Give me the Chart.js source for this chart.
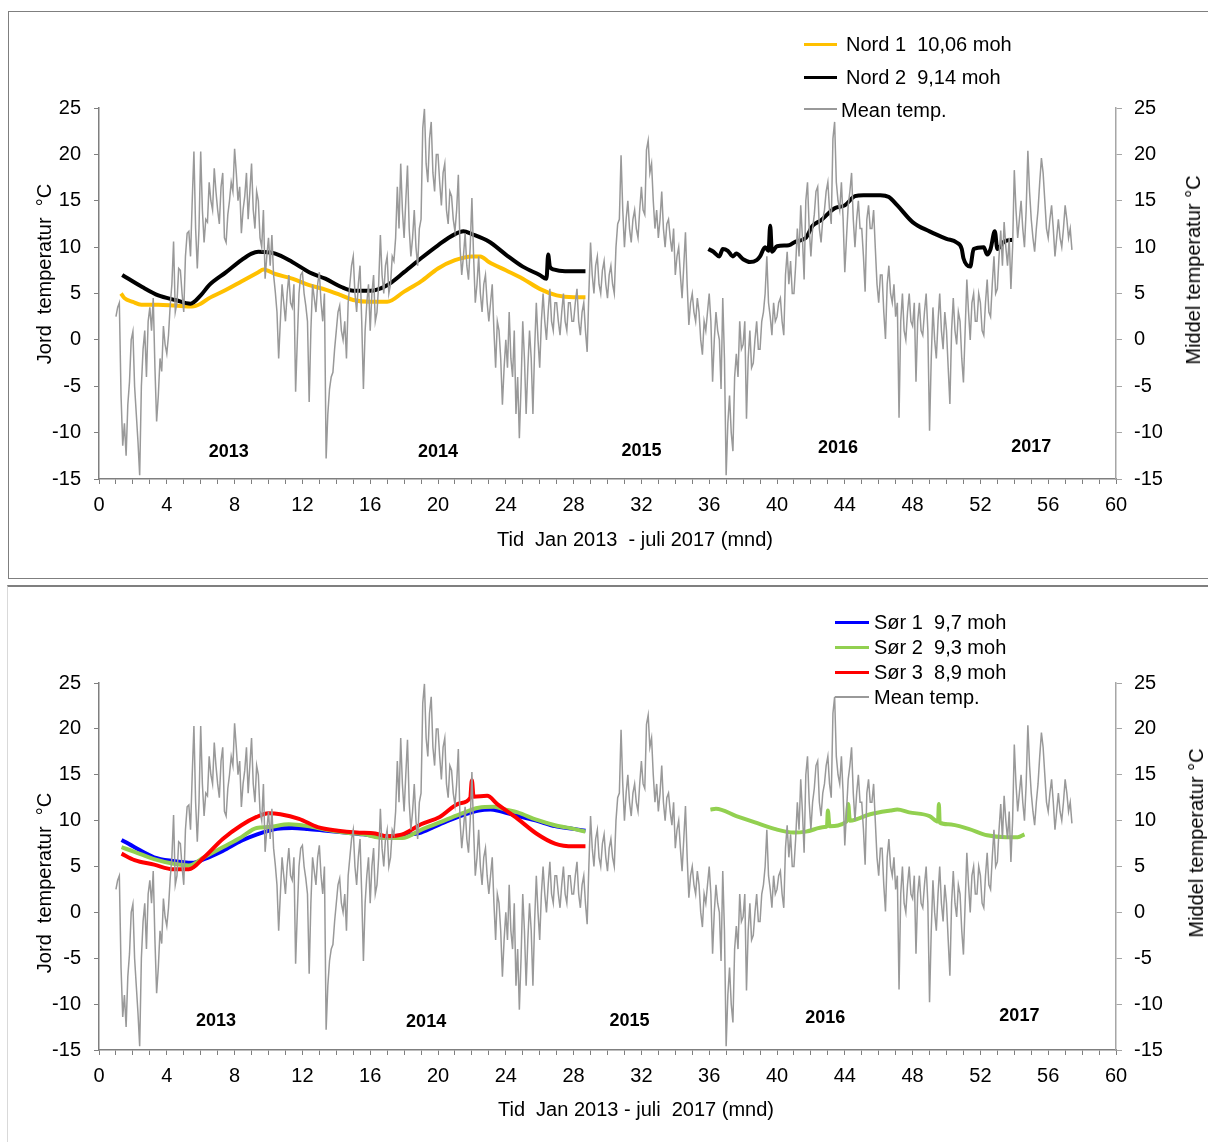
<!DOCTYPE html>
<html>
<head>
<meta charset="utf-8">
<title>Jord temperatur</title>
<script src="https://cdn.jsdelivr.net/npm/chart.js@4.4.1/dist/chart.umd.min.js"></script>
<style>
    html, body { margin: 0; padding: 0; background: #fff; }
    body { width: 1208px; height: 1142px; position: relative; overflow: hidden;
           font-family: "Liberation Sans", Arial, sans-serif; color: #000; }
    #frameTop { position: absolute; box-sizing: border-box; left: 8px; top: 11px; width: 1230px; height: 568px;
                border: 1.5px solid #7f7f7f; }
    #frameBottom { position: absolute; box-sizing: border-box; left: 7px; top: 585px; width: 1230px; height: 600px;
                   border-top: 2px solid #7f7f7f; border-left: 1px solid #d9d9d9; }
    canvas { position: absolute; left: 0; }
    #topChart { top: 0; }
    #bottomChart { top: 586px; }
    .txt { position: absolute; white-space: pre; font-size: 20px; line-height: 1; }
    .vtitle { transform: translate(-50%, -50%) rotate(-90deg); }
    .htitle { transform: translate(-50%, -50%); }
    .legText { transform: translateY(-50%); }
    .legLine { position: absolute; }
</style>
</head>
<body>
<div id="frameTop"></div>
<div id="frameBottom"></div>
<canvas id="topChart" width="1208" height="580"></canvas>
<canvas id="bottomChart" width="1208" height="556"></canvas>

<!-- top panel texts -->
<div class="txt vtitle" style="left:44px; top:274px;">Jord  temperatur  °C</div>
<div class="txt vtitle" style="left:1193px; top:270px;">Middel temperatur °C</div>
<div class="txt htitle" style="left:635px; top:539px;">Tid  Jan 2013  - juli 2017 (mnd)</div>
<div class="legLine" style="left:804px; top:42.5px; width:33px; height:3px; background:#FFC000;"></div>
<div class="txt legText" style="left:846px; top:44px;">Nord 1  10,06 moh</div>
<div class="legLine" style="left:804px; top:75.5px; width:33px; height:3.5px; background:#000;"></div>
<div class="txt legText" style="left:846px; top:77px;">Nord 2  9,14 moh</div>
<div class="legLine" style="left:804px; top:108px; width:33px; height:1.5px; background:#999;"></div>
<div class="txt legText" style="left:841px; top:110px;">Mean temp.</div>

<!-- bottom panel texts -->
<div class="txt vtitle" style="left:44px; top:883px;">Jord  temperatur  °C</div>
<div class="txt vtitle" style="left:1196px; top:843px;">Middel temperatur °C</div>
<div class="txt htitle" style="left:636px; top:1109px;">Tid  Jan 2013 - juli  2017 (mnd)</div>
<div class="legLine" style="left:835px; top:620.5px; width:34px; height:3px; background:#0000FF;"></div>
<div class="txt legText" style="left:874px; top:622px;">Sør 1  9,7 moh</div>
<div class="legLine" style="left:835px; top:645.5px; width:34px; height:3px; background:#92D050;"></div>
<div class="txt legText" style="left:874px; top:647px;">Sør 2  9,3 moh</div>
<div class="legLine" style="left:835px; top:670.5px; width:34px; height:3px; background:#FF0000;"></div>
<div class="txt legText" style="left:874px; top:672px;">Sør 3  8,9 moh</div>
<div class="legLine" style="left:835px; top:696px; width:34px; height:1.5px; background:#999;"></div>
<div class="txt legText" style="left:874px; top:697px;">Mean temp.</div>

<script>
// month axis (Jan 2013 = 0) and temperature axes
const monthMin = 0;
const monthMax = 60;
const tempMin = -15;
const tempMax = 25;
const tempStep = 5;

// mean air temperature, read every 0.1 month from month 1.0 (one row = one month)
const meanStartMonth = 1.0;
const meanStepMonth = 0.1;
const meanTemp = [
    2.5, 3.5, 4.0, -6, -11.4, -9, -12.5, -7, -4.5, 0,
    0.9, -5, -8, -11, -14.6, -5, -1, 1, -4, 2,
    3.5, 1, 4.5, -3, -8.8, -6, -2, -3.4, 1.5, -0.5,
    -1.5, 0.5, 3.7, 6, 10.6, 3, 4, 7.7, 7.5, 5,
    3, 9, 11.5, 11.7, 9, 15, 20.3, 12, 7.7, 12,
    20.3, 14, 10.5, 13, 12.7, 17, 15, 14, 18.5, 16,
    14, 12.5, 16.5, 18, 11, 10.5, 13.5, 15, 17, 16,
    20.6, 18, 15, 16.5, 11.5, 14, 15.5, 18, 13, 16,
    19, 14, 12, 16, 15, 11, 10, 14, 6.6, 9,
    11, 8, 11.3, 7, 5.2, 3, -2, 2, 6, 4,
    2, 5, 7, 4, 3.5, 6, -5.6, 0, 5, 7,
    7.3, 5, 3.7, 2, -6.7, 1, 6, 4.5, 3, 6,
    7.3, 4, 2, 5, -12.8, -8, -5.3, -4, -3.5, -1,
    1, 3, 3.7, 1, 0, 2, -2, 4, 6, 8,
    9, 5, 3, 6, 8, 2, -5.3, 1, 4, 6,
    1, 5, 7, 2, 3, 6, 11.3, 7, 5, 8,
    9, 5, 6, 9, 8.5, 11, 16.5, 12, 19, 14,
    11, 15, 18.8, 12, 9, 11, 14, 10, 8, 12,
    13, 22.8, 24.9, 19, 17, 21.7, 23.5, 18, 16, 20,
    20, 17, 14.5, 18, 19, 14, 12.5, 16, 15.5, 13,
    11.7, 14, 17.8, 10, 7, 9, 11.5, 8, 6.5, 10,
    15.3, 9, 4, 6, 9, 5, 3, 6, 7, 4,
    2, 4, 6, 1, -3, 2, 1, -2, -7, -3,
    0, -3, 3, -2, -4, 1, -8, -4, -10.6, -5,
    2, -2, -8, -3, 1, -2, -8, -1, 4, 0,
    -3, 2, 5, 2, 0, 3, 5.5, 2, 1, 4,
    4, 2, 0.5, 3, 5, 2, 1, 4, 4, 2,
    2, 4, 5.5, 2, 0.5, 3, 4, 1, -1.3, 5,
    10.5, 7, 5, 8, 9, 6, 5, 7.5, 8.5, 6,
    4.5, 7, 8, 6, 5, 10, 12.5, 13, 19.9, 14,
    10, 13, 15, 12, 10.5, 13, 14, 12, 11, 14,
    16.5, 14, 13.5, 20.5, 21.5, 18, 19, 15, 12, 14,
    11, 13, 16, 12, 10, 12.5, 13, 11, 9.5, 12,
    7, 9, 10, 7, 4.5, 8, 11.6, 6, 1.6, 4,
    5, 3, 2, 4.5, 3, 0, -1.6, 2, 1, 3,
    5, 2, -4.5, 0, 3, 1, 0, -5.3, 4.5, -2,
    -14.6, -9, -6, -10, -12, -4, -1.5, -4, 2, -1,
    -0.5, 2, -8.5, -2, 1, -3, -2.5, 0, 2, -1,
    -1, 2, 3, 5, 9, 4, 2.5, 0.5, 4, 2,
    2.5, 4, 4.5, 2, 0.5, 7, 9.5, 6, 8.5, 5,
    5, 8, 12, 9, 14.5, 11, 6.5, 15, 17, 12,
    9, 12, 13.5, 16, 16.5, 12, 10.5, 13, 14, 16,
    17, 14, 12.5, 21.7, 23.5, 17, 15, 14, 17, 13,
    7.3, 11, 14.5, 16, 18, 13, 10, 13, 15, 12,
    12, 9, 5.2, 13, 14.5, 12, 12, 14, 9.9, 6,
    4, 7, 7, 3, 0.1, 6, 8, 5, 4, 6,
    2.5, 4, -8.4, 2, 5, 1, 0, 3, 5, 2,
    1.5, 4, -4.5, 2, 4, 1, 0.5, 3, 5, 1,
    -9.8, -2, 3.5, 0, -2, 2, 5, 1, -1, 3,
    1, -3, -6.9, 1, 4.5, 1, -0.5, 3, 2, -2,
    -4.6, 1, 6.5, 3, 0, 4, 5, 2, 2, 5,
    4, 1, 0.5, 4, 6.5, 3, 2.5, 6, 9, 5,
    5.5, 9, 11.8, 8, 12.7, 10, 8, 11, 5.5, 10,
    18.3, 14, 11, 13, 15, 12, 10, 14, 20.4, 16,
    13, 11, 9.5, 12, 14, 17, 19.6, 18, 15, 12,
    11, 13, 14.5, 12, 9, 11, 13, 11, 10, 12,
    14.5, 13, 11, 12, 9.7
];

// Nord 1  10,06 moh
const nord1Months = [1.3, 1.5, 2, 2.5, 3.5, 4.5, 5.5, 6, 6.5, 7.5, 8.4, 9.4, 9.7, 10.4, 11.4, 12.4, 13.4, 14.3,
    15, 16, 17, 18, 19, 20, 21, 22, 22.5, 23, 24, 25, 26, 27, 28, 28.7];
const nord1Temps = [5.0, 4.5, 4.1, 3.8, 3.8, 3.7, 3.6, 3.9, 4.5, 5.4, 6.3, 7.3, 7.6, 7.1, 6.6, 5.9, 5.4, 4.8,
    4.3, 4.1, 4.1, 5.2, 6.3, 7.7, 8.6, 9.0, 9.0, 8.4, 7.5, 6.6, 5.5, 4.8, 4.6, 4.6];

// Nord 2  9,14 moh (logger gap between the two periods)
const nord2Months = [1.37, 2.55, 3.5, 4.5, 5.4, 6.0, 6.5, 7.5, 8.4, 9.0, 9.4, 10.4, 11.4, 12.4, 13.35, 14.3,
    15, 16, 17, 18, 19, 20, 21, 21.5, 22, 23, 24, 25, 26, 26.4, 26.5, 26.6, 26.8, 27.5, 28, 28.7,
    32,
    35.95, 36.25, 36.6, 36.8, 37.1, 37.4, 37.6, 38, 38.4, 38.8, 39, 39.3, 39.5, 39.6, 39.7, 40, 40.7, 41.1,
    41.7, 42.1, 42.6, 43.4, 44, 44.6, 45.1, 46.1, 46.6, 47.1, 48, 49, 50, 50.6, 50.9, 51, 51.4, 51.6,
    52.2, 52.4, 52.6, 52.85, 53, 53.4, 53.9];
const nord2Temps = [7.0, 5.7, 4.8, 4.3, 3.9, 4.8, 5.9, 7.3, 8.6, 9.3, 9.5, 9.3, 8.4, 7.3, 6.6, 5.7,
    5.3, 5.3, 5.9, 7.3, 8.8, 10.2, 11.4, 11.7, 11.4, 10.6, 9.2, 7.9, 7.0, 6.6, 9.2, 7.9, 7.6, 7.4, 7.4, 7.4,
    null,
    9.8, 9.5, 9.0, 9.8, 9.6, 9.0, 9.3, 8.7, 8.4, 8.6, 9.0, 10.0, 9.6, 12.3, 9.5, 10.1, 10.2, 10.6,
    11.0, 12.3, 12.9, 14.2, 14.5, 15.5, 15.6, 15.6, 15.4, 14.5, 12.7, 11.7, 10.9, 10.5, 9.8, 8.8, 7.9, 9.8,
    10.0, 9.2, 9.8, 11.7, 9.8, 10.6, 10.8];

// Sør 1  9,7 moh
const sor1Months = [1.33, 2.1, 3.25, 4.37, 5.5, 6.2, 7.3, 8.4, 9.33, 10.5, 11.4, 12.3, 13.4, 14.5, 15.6, 16.8,
    17.9, 19, 20.1, 21.3, 22.4, 23.1, 23.5, 24.7, 25.8, 26.9, 28, 28.7];
const sor1Temps = [7.9, 7.1, 6.0, 5.6, 5.4, 5.8, 6.7, 7.8, 8.5, 9.1, 9.2, 9.1, 8.9, 8.7, 8.5, 8.2,
    8.4, 8.7, 9.6, 10.5, 11.1, 11.2, 11.1, 10.5, 10.0, 9.4, 9.1, 8.9];

// Sør 2  9,3 moh (logger gap between the two periods)
const sor2Months = [1.33, 2.1, 3.25, 4.4, 5.3, 6.2, 7.3, 8.4, 9.3, 10, 11.2, 12.3, 13.4, 14.5, 15.6, 16.8,
    17.9, 19, 20.1, 21.3, 22.4, 23.3, 24, 24.7, 25.8, 26.9, 28, 28.7,
    32,
    36.07, 36.4, 37.6, 38.7, 39.85, 41, 41.7, 42.8, 42.95, 43.0, 43.1, 44.1, 44.2, 44.3, 45.5, 46.7,
    47.1, 47.8, 49, 49.5, 49.55, 49.6, 50.1, 51.3, 52.4, 53.5, 54.2, 54.6];
const sor2Temps = [7.1, 6.6, 5.8, 5.3, 5.1, 6.0, 7.1, 8.2, 9.2, 9.3, 9.6, 9.4, 9.0, 8.7, 8.5, 8.1,
    8.1, 9.0, 9.8, 10.7, 11.4, 11.5, 11.2, 10.9, 10.1, 9.5, 9.1, 8.8,
    null,
    11.2, 11.3, 10.5, 9.8, 9.1, 8.7, 8.8, 9.3, 9.4, 11.1, 9.4, 9.9, 11.8, 10.0, 10.7, 11.1,
    11.2, 10.9, 10.5, 9.9, 11.8, 9.8, 9.6, 9.1, 8.4, 8.2, 8.2, 8.5];

// Sør 3  8,9 moh
const sor3Months = [1.33, 2.1, 3.25, 4.4, 5.3, 6.2, 7.3, 8.4, 9.3, 10, 10.7, 11.8, 12.9, 14.1, 15.2, 16.3,
    17, 17.9, 19, 20.1, 21.3, 21.9, 22.0, 22.1, 22.9, 23.5, 24.7, 25.8, 26.9, 28, 28.7];
const sor3Temps = [6.4, 5.7, 5.2, 4.7, 4.7, 6.0, 8.0, 9.5, 10.4, 10.8, 10.7, 10.2, 9.3, 8.9, 8.7, 8.6,
    8.3, 8.5, 9.6, 10.4, 11.9, 12.5, 14.4, 12.6, 12.7, 11.8, 10.2, 8.6, 7.5, 7.2, 7.2];

// year captions inside the plot (month, temperature)
const yearLabels = ['2013', '2014', '2015', '2016', '2017'];
const yearMonthsTop = [7.66, 20.0, 32.0, 43.6, 55.0];
const yearTempsTop = [-12.1, -12.1, -12.0, -11.7, -11.5];
const yearMonthsBottom = [6.9, 19.3, 31.3, 42.85, 54.3];
const yearTempsBottom = [-11.8, -11.9, -11.8, -11.5, -11.3];

function toPoints(months, temps) {
    return months.map((m, i) => ({ x: m, y: temps[i] }));
}

const meanPoints = meanTemp.map((t, i) => ({ x: +(meanStartMonth + i * meanStepMonth).toFixed(2), y: t }));

const tickFont = { family: '"Liberation Sans", Arial, sans-serif', size: 20 };

function meanDataset() {
    return {
        label: 'Mean temp.',
        data: meanPoints,
        yAxisID: 'y2',
        borderColor: '#999999',
        borderWidth: 1.5,
        pointRadius: 0,
        tension: 0
    };
}

function soilDataset(label, months, temps, color) {
    return {
        label: label,
        data: toPoints(months, temps),
        yAxisID: 'y',
        borderColor: color,
        borderWidth: 4,
        pointRadius: 0,
        cubicInterpolationMode: 'monotone',
        spanGaps: false
    };
}

function yearPlugin(months, temps) {
    return {
        id: 'yearLabels',
        afterDatasetsDraw(chart) {
            const ctx = chart.ctx;
            const xs = chart.scales.x;
            const ys = chart.scales.y;
            ctx.save();
            ctx.font = 'bold 18px "Liberation Sans", Arial, sans-serif';
            ctx.fillStyle = '#000';
            ctx.textAlign = 'center';
            ctx.textBaseline = 'middle';
            yearLabels.forEach((txt, i) => {
                ctx.fillText(txt, xs.getPixelForValue(months[i]), ys.getPixelForValue(temps[i]));
            });
            ctx.restore();
        }
    };
}

function buildChart(canvasId, datasets, plugin, areaTop, areaBottom, height) {
    const ctx = document.getElementById(canvasId);
    return new Chart(ctx, {
        type: 'line',
        data: { datasets: datasets },
        options: {
            responsive: false,
            animation: false,
            layout: { padding: { top: areaTop, left: 0, right: 0, bottom: 0 } },
            plugins: {
                legend: { display: false },
                tooltip: { enabled: false },
                title: { display: false }
            },
            scales: {
                x: {
                    type: 'linear',
                    min: monthMin,
                    max: monthMax,
                    afterFit: s => { s.height = height - areaBottom; },
                    ticks: {
                        stepSize: 1,
                        autoSkip: false,
                        maxRotation: 0,
                        padding: 9,
                        color: '#000',
                        font: tickFont,
                        callback: v => (v % 4 === 0 ? String(v) : '')
                    },
                    grid: { drawOnChartArea: false, tickLength: 5, color: '#7f7f7f', lineWidth: 1 },
                    border: { color: '#7f7f7f', width: 1.5 }
                },
                y: {
                    position: 'left',
                    min: tempMin,
                    max: tempMax,
                    afterFit: s => { s.width = 99; },
                    ticks: { stepSize: tempStep, padding: 13, color: '#000', font: tickFont },
                    grid: { drawOnChartArea: false, tickLength: 5, color: '#7f7f7f' },
                    border: { color: '#7f7f7f', width: 1.5 }
                },
                y2: {
                    position: 'right',
                    min: tempMin,
                    max: tempMax,
                    afterFit: s => { s.width = 1208 - 1116; },
                    ticks: { stepSize: tempStep, padding: 12, color: '#000', font: tickFont },
                    grid: { drawOnChartArea: false, tickLength: 6, color: '#a6a6a6' },
                    border: { color: '#a6a6a6', width: 1.5 }
                }
            }
        },
        plugins: [plugin]
    });
}

buildChart('topChart', [
    meanDataset(),
    soilDataset('Nord 2  9,14 moh', nord2Months, nord2Temps, '#000000'),
    soilDataset('Nord 1  10,06 moh', nord1Months, nord1Temps, '#FFC000')
], yearPlugin(yearMonthsTop, yearTempsTop), 108, 479, 580);

buildChart('bottomChart', [
    meanDataset(),
    soilDataset('Sør 3  8,9 moh', sor3Months, sor3Temps, '#FF0000'),
    soilDataset('Sør 2  9,3 moh', sor2Months, sor2Temps, '#92D050'),
    soilDataset('Sør 1  9,7 moh', sor1Months, sor1Temps, '#0000FF')
], yearPlugin(yearMonthsBottom, yearTempsBottom), 97, 464, 556);
</script>
</body>
</html>
